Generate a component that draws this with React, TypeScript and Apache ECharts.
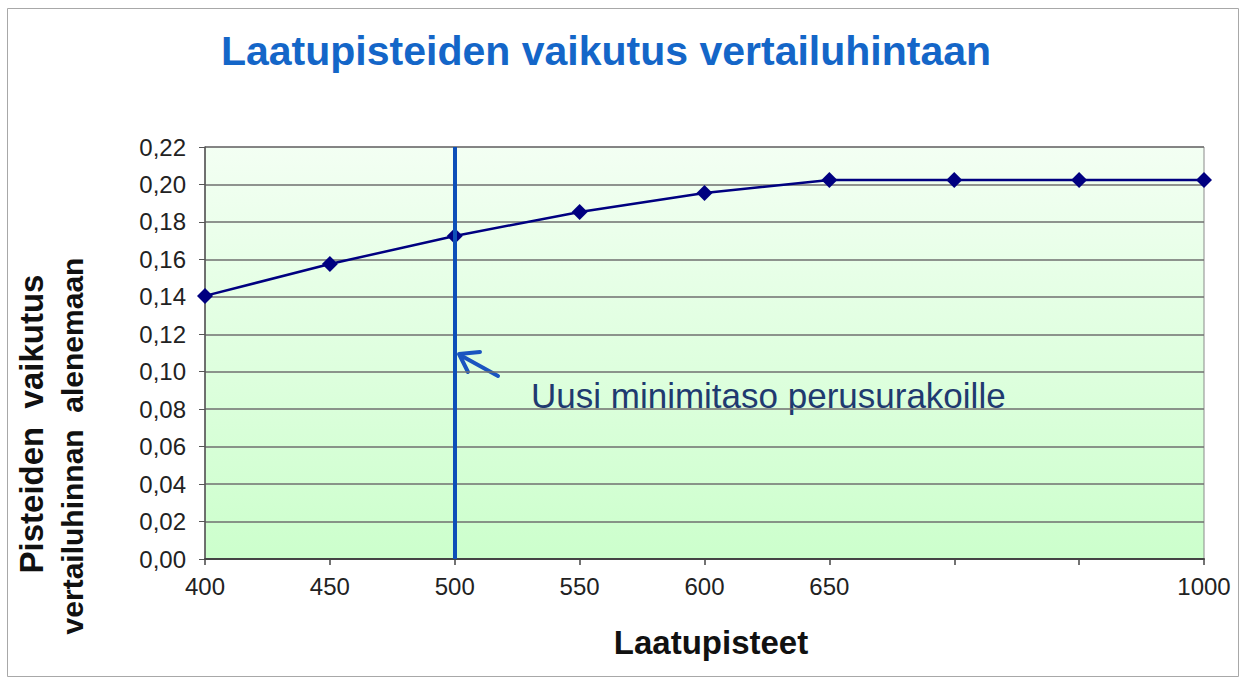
import React, { useEffect, useRef } from "react";
import * as echarts from "echarts";

const categories = ["400", "450", "500", "550", "600", "650", "", "", "1000"];
const values = [0.1405, 0.1575, 0.1725, 0.1853, 0.1954, 0.2024, 0.2024, 0.2024, 0.2024];
const titleText = "Laatupisteiden vaikutus vertailuhintaan";
const xName = "Laatupisteet";
const yNameLine1 = "Pisteiden  vaikutus";
const yNameLine2 = "vertailuhinnan  alenemaan";
const annotation = "Uusi minimitaso perusurakoille";
const markCategory = "500";

export default function App() {
  const ref = useRef<HTMLDivElement>(null);
  useEffect(() => {
    if (!ref.current) return;
    const chart = echarts.init(ref.current, null, { renderer: "svg" });
    const font = "'Liberation Sans', Arial, sans-serif";
    chart.setOption({
      animation: false,
      backgroundColor: "#ffffff",
      textStyle: { fontFamily: font },
      title: {
        text: titleText,
        left: 601,
        textAlign: "center",
        top: 25,
        textStyle: { fontFamily: font, fontSize: 41, fontWeight: "bold", color: "#1466c8" },
      },
      grid: {
        left: 205,
        top: 147,
        width: 999,
        height: 412,
        containLabel: false,
        show: true,
        borderColor: "#8a8a8a",
        borderWidth: 1,
        backgroundColor: new echarts.graphic.LinearGradient(0, 0, 0, 1, [
          { offset: 0, color: "#f3fff3" },
          { offset: 1, color: "#ccffcc" },
        ]),
      },
      xAxis: {
        type: "category",
        data: categories,
        boundaryGap: false,
        axisLine: { lineStyle: { color: "#444", width: 2 } },
        axisTick: { show: true, length: 6, alignWithLabel: true, lineStyle: { color: "#444", width: 1.5 } },
        axisLabel: { color: "#222", fontSize: 24, margin: 15, fontFamily: font, interval: 0 },
        splitLine: { show: false },
      },
      yAxis: {
        type: "value",
        min: 0,
        max: 0.22,
        interval: 0.02,
        axisLine: { show: true, lineStyle: { color: "#555", width: 1.5 } },
        axisTick: { show: true, length: 6, lineStyle: { color: "#555" } },
        axisLabel: {
          color: "#222",
          fontSize: 24,
          margin: 19,
          fontFamily: font,
          formatter: (v: number) => v.toFixed(2).replace(".", ","),
        },
        splitLine: { show: true, lineStyle: { color: "#6f6f6f", width: 1.5 } },
      },
      series: [
        {
          type: "line",
          data: values,
          symbol: "diamond",
          symbolSize: 16,
          lineStyle: { color: "#000080", width: 2.5 },
          itemStyle: { color: "#000080" },
          z: 3,
          markLine: {
            silent: true,
            symbol: "none",
            label: { show: false },
            lineStyle: { color: "#0d4fb8", width: 4, type: "solid" },
            data: [{ xAxis: markCategory }],
          },
        },
      ],
      graphic: [
        {
          type: "rect",
          shape: { x: 7.5, y: 8.5, width: 1231, height: 668 },
          style: { fill: "none", stroke: "#a8a8a8", lineWidth: 1 },
          z: -1,
        },
        {
          type: "text",
          x: 31,
          y: 424,
          rotation: Math.PI / 2,
          style: {
            text: yNameLine1,
            fontFamily: font,
            fontSize: 33,
            fontWeight: "bold",
            fill: "#111",
            align: "center",
            verticalAlign: "middle",
          },
        },
        {
          type: "text",
          x: 72,
          y: 446,
          rotation: Math.PI / 2,
          style: {
            text: yNameLine2,
            fontFamily: font,
            fontSize: 30,
            fontWeight: "bold",
            fill: "#111",
            align: "center",
            verticalAlign: "middle",
          },
        },
        {
          type: "text",
          x: 711,
          y: 642,
          style: {
            text: xName,
            fontFamily: font,
            fontSize: 33,
            fontWeight: "bold",
            fill: "#111",
            align: "center",
            verticalAlign: "middle",
          },
        },
        {
          type: "text",
          x: 531,
          y: 395,
          style: {
            text: annotation,
            fontFamily: font,
            fontSize: 35,
            fill: "#1f3a70",
            verticalAlign: "middle",
          },
        },
        {
          type: "line",
          shape: { x1: 498, y1: 376, x2: 460, y2: 355 },
          style: { stroke: "#1a55c0", lineWidth: 4, lineCap: "round" },
        },
        {
          type: "polyline",
          shape: { points: [[480, 352], [459, 354], [468, 372]] },
          style: { stroke: "#1a55c0", lineWidth: 4, fill: "none", lineCap: "round", lineJoin: "round" },
        },
      ],
    });
    return () => chart.dispose();
  }, []);
  return (
    <div
      ref={ref}
      style={{ position: "fixed", left: 0, top: 0, width: 1248, height: 678 }}
    />
  );
}
